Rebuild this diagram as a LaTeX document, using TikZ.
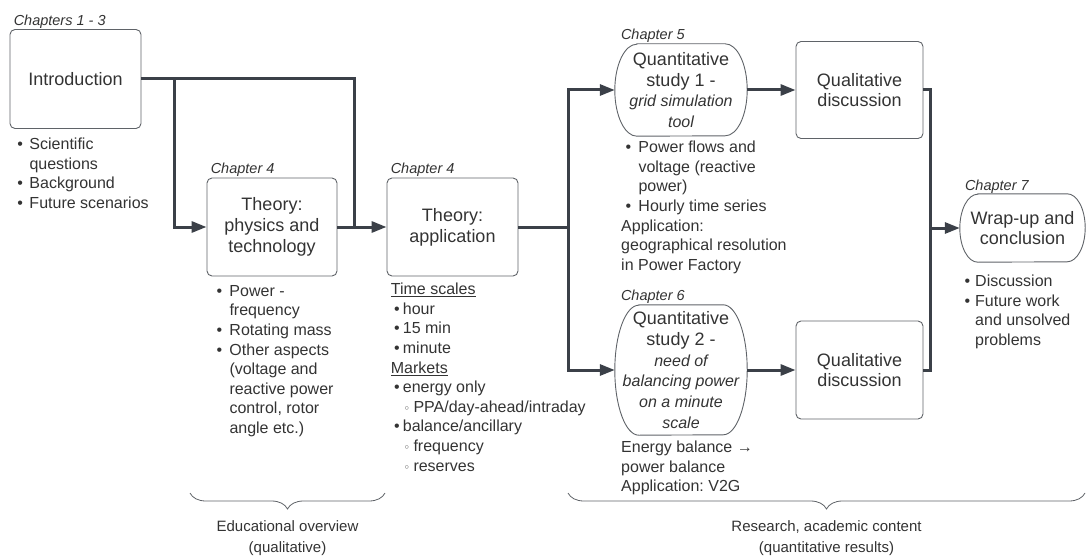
\documentclass[tikz,border=0pt]{standalone}
\usepackage{fontspec}
\setmainfont{Liberation Sans}
\newfontfamily\symfont{DejaVu Sans}
\usetikzlibrary{arrows.meta,decorations.pathreplacing}
\definecolor{txt}{HTML}{333333}
\definecolor{edge}{HTML}{3B4048}
\definecolor{frame}{HTML}{5F6368}
\frenchspacing
\newcommand{\bul}[2]{\hspace*{#1}\makebox[0pt]{\textbullet}\hspace*{#2}}
\newcommand{\sbul}[2]{\hspace*{#1}\makebox[0pt]{\symfont\fontsize{11}{11}\selectfont ◦}\hspace*{#2}}
\newcommand{\emtext}[1]{{\fontsize{16}{20.7}\selectfont\itshape #1}}
% outline of a box with rounded ends
\newcommand{\termbox}[3]{%
  \draw[boxline] ([xshift=#2]#1.north west) -- ([xshift=-#2]#1.north east)
    arc[start angle=90,end angle=-90,x radius=#2,y radius=#3]
    -- ([xshift=#2]#1.south west)
    arc[start angle=270,end angle=90,x radius=#2,y radius=#3] -- cycle;}
\tikzset{
  box/.style={draw=frame, line width=0.9pt, rounded corners=5pt, align=center,
    inner sep=0pt, font=\fontsize{18}{20.8}\selectfont, text=txt},
  term/.style={align=center, inner sep=0pt, font=\fontsize{18}{20.8}\selectfont, text=txt},
  boxline/.style={draw=frame, line width=0.9pt},
  chap/.style={anchor=base west, inner sep=0pt, font=\fontsize{14.5}{17}\selectfont\itshape, text=txt},
  notes/.style={anchor=north west, align=left, inner sep=0pt, font=\fontsize{16}{19.6}\selectfont, text=txt},
  caption/.style={anchor=north, align=center, inner sep=0pt, font=\fontsize{15}{21}\selectfont, text=txt},
  conn/.style={draw=edge, line width=3pt},
  arr/.style={-{Triangle[length=15pt,width=11pt]}},
  brace/.style={decorate, decoration={brace, mirror, amplitude=16pt}, draw=frame, line width=0.8pt}
}
\begin{document}
\begin{tikzpicture}[x=1pt,y=-1pt]
  \useasboundingbox (0,0) rectangle (1086,559);
  % boxes
  \node[box, minimum width=131pt, minimum height=99pt] (intro) at (75.5,79) {Introduction};
  \node[box, minimum width=130pt, minimum height=98pt] (phys) at (272,227) {Theory:\\physics and\\technology};
  \node[box, minimum width=131pt, minimum height=98pt] (appl) at (452.5,227) {Theory:\\application};
  \node[term, minimum width=132pt, minimum height=92pt] (quant1) at (681,90) {Quantitative\\study 1 -\\\emtext{grid simulation}\\\emtext{tool}};
  \node[box, minimum width=127pt, minimum height=97pt] (qual1) at (859.5,90) {Qualitative\\discussion};
  \node[term, minimum width=132pt, minimum height=130pt] (quant2) at (681,370) {Quantitative\\study 2 -\\\emtext{need of}\\\emtext{balancing power}\\\emtext{on a minute}\\\emtext{scale}};
  \node[box, minimum width=127pt, minimum height=98pt] (qual2) at (859.5,370) {Qualitative\\discussion};
  \node[term, minimum width=125pt, minimum height=68pt] (wrap) at (1022.5,228) {Wrap-up and\\conclusion};
  \termbox{quant1}{22pt}{46pt}
  \termbox{quant2}{24pt}{65pt}
  \termbox{wrap}{18pt}{34pt}
  % chapter labels
  \node[chap] (ch13) at ([xshift=4pt,yshift=4pt]intro.north west) {Chapters 1 - 3};
  \node[chap] (ch4a) at ([xshift=4pt,yshift=4pt]phys.north west) {Chapter 4};
  \node[chap] (ch4b) at ([xshift=4pt,yshift=4pt]appl.north west) {Chapter 4};
  \node[chap] (ch5) at ([xshift=6pt,yshift=4pt]quant1.north west) {Chapter 5};
  \node[chap] (ch6) at ([xshift=6pt,yshift=4pt]quant2.north west) {Chapter 6};
  \node[chap] (ch7) at ([xshift=5pt,yshift=3pt]wrap.north west) {Chapter 7};
  % notes under the boxes
  \node[notes] (introNotes) at (14,138) {\bul{6pt}{9.3pt}Scientific\\\hspace*{15.3pt}questions\\\bul{6pt}{9.3pt}Background\\\bul{6pt}{9.3pt}Future scenarios};
  \node[notes] (physNotes) at (216,285) {\bul{3.3pt}{10pt}Power -\\\hspace*{13.3pt}frequency\\\bul{3.3pt}{10pt}Rotating mass\\\bul{3.3pt}{10pt}Other aspects\\\hspace*{13.3pt}(voltage and\\\hspace*{13.3pt}reactive power\\\hspace*{13.3pt}control, rotor\\\hspace*{13.3pt}angle etc.)};
  \node[notes] (applNotes) at (390.7,283) {\underline{Time scales}\\\bul{6pt}{6pt}hour\\\bul{6pt}{6pt}15 min\\\bul{6pt}{6pt}minute\\\underline{Markets}\\\bul{6pt}{6pt}energy only\\\sbul{16pt}{6.6pt}PPA/day-ahead/intraday\\\bul{6pt}{6pt}balance/ancillary\\\sbul{16pt}{6.6pt}frequency\\\sbul{16pt}{6.6pt}reserves};
  \node[notes] (quant1Notes) at (621,141) {\bul{7.3pt}{10pt}Power flows and\\\hspace*{17.3pt}voltage (reactive\\\hspace*{17.3pt}power)\\\bul{7.3pt}{10pt}Hourly time series\\Application:\\geographical resolution\\in Power Factory};
  \node[notes] (quant2Notes) at (621,441) {Energy balance →\\power balance\\Application: V2G};
  \node[notes] (wrapNotes) at (964,275) {\bul{3.3pt}{7.7pt}Discussion\\\bul{3.3pt}{7.7pt}Future work\\\hspace*{11pt}and unsolved\\\hspace*{11pt}problems};
  % connectors
  \coordinate (forkA) at (174,79);
  \coordinate (joinA) at (354,227);
  \coordinate (forkB) at (568,227);
  \coordinate (joinC) at (930,228);
  \draw[conn] (intro.east) -| (joinA);
  \draw[conn,arr] (forkA) |- (phys.west);
  \draw[conn,arr] (phys.east) -- (appl.west);
  \draw[conn] (appl.east) -- (forkB);
  \draw[conn,arr] (forkB) |- (quant1.west);
  \draw[conn,arr] (forkB) |- (quant2.west);
  \draw[conn,arr] (quant1.east) -- (qual1.west);
  \draw[conn,arr] (quant2.east) -- (qual2.west);
  \draw[conn] (qual1.east) -| (joinC) |- (qual2.east);
  \draw[conn,arr] (joinC) -- (wrap.west);
  % braces
  \draw[brace] (190,493) -- (385,493);
  \node[caption] (eduCap) at (287.5,520) {Educational overview\\(qualitative)};
  \draw[brace] (568,493) -- (1085,493);
  \node[caption] (resCap) at (826.5,520) {Research, academic content\\(quantitative results)};
\end{tikzpicture}
\end{document}
